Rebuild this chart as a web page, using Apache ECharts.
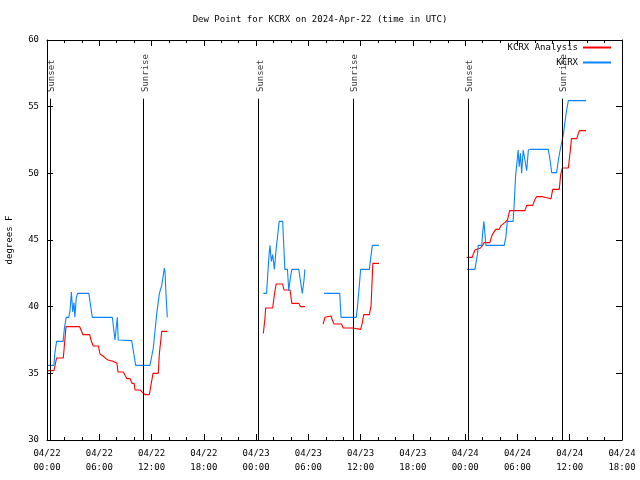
<!DOCTYPE html>
<html>
<head>
<meta charset="utf-8">
<script src="https://cdn.jsdelivr.net/npm/echarts@6/dist/echarts.min.js"></script>
<style>html,body{margin:0;padding:0;background:#fff;}#c{width:640px;height:480px;}</style>
</head>
<body>
<div id="c"></div>
<script>
const tickLabels = ['04/22\n00:00','04/22\n06:00','04/22\n12:00','04/22\n18:00','04/23\n00:00','04/23\n06:00','04/23\n12:00','04/23\n18:00','04/24\n00:00','04/24\n06:00','04/24\n12:00','04/24\n18:00'];

// KCRX observed (hours since 04/22 00:00 UTC)
const kcrxHours = [0.1,0.8,0.9,1.1,1.85,2.0,2.2,2.5,2.65,2.8,2.95,3.1,3.2,3.35,3.5,4.8,5.2,7.5,7.8,8.07,8.18,8.26,9.72,10.18,11.82,12.2,12.6,12.9,13.17,13.47,13.55,13.66,13.81,
  19,
  24.83,25.2,25.5,25.6,25.75,25.9,26.1,26.3,26.5,26.65,27.05,27.3,27.6,27.75,27.9,28.1,28.9,29.1,29.3,29.5,29.6,
  30.7,
  31.8,33.6,33.75,35.5,35.65,35.85,36.0,37.0,37.2,37.35,38.1,
  43,
  48.17,49.12,49.27,49.4,49.5,49.9,50.0,50.15,50.26,50.38,52.48,52.68,52.83,53.5,53.62,53.78,53.97,54.08,54.2,54.35,54.48,54.66,54.86,55.06,55.25,55.52,57.54,57.74,57.93,58.5,58.7,58.9,59.08,59.27,59.46,59.65,59.84,61.87];
const kcrxValues = [35.6,35.6,36.5,37.4,37.4,38.4,39.2,39.2,39.75,41.1,39.6,40.3,39.2,40.6,41.0,41.0,39.2,39.2,37.5,39.2,37.5,37.45,37.45,35.6,35.6,36.9,39.5,41.0,41.6,42.9,42.6,40.9,39.2,
  null,
  41.0,41.0,44.0,44.6,43.4,43.9,42.8,44.3,45.5,46.4,46.4,42.8,42.8,41.2,42.0,42.8,42.8,41.9,41.0,42.0,42.8,
  null,
  41.0,41.0,39.2,39.2,40.1,41.6,42.8,42.8,43.9,44.6,44.6,
  null,
  42.8,42.8,43.4,43.9,44.6,44.6,45.5,46.4,45.5,44.6,44.6,45.25,46.4,46.4,47.6,49.75,51.0,51.75,50.5,51.5,50.0,51.75,51.0,50.2,51.75,51.8,51.8,51.0,50.05,50.05,51.0,51.75,51.8,52.9,53.9,54.75,55.45,55.45];

// KCRX Analysis
const analysisHours = [0.1,0.8,1.1,1.87,2.18,3.75,3.9,4.13,4.9,5.05,5.3,5.9,6.08,6.43,6.77,7.0,7.58,7.8,8.03,8.15,8.76,8.96,9.18,9.53,9.76,10.0,10.1,10.67,11.0,11.25,11.74,12.17,12.77,12.9,13.17,13.81,
  19,
  24.83,25.0,25.1,25.9,26.1,26.3,27.05,27.2,27.9,28.1,28.9,29.1,29.6,
  30.7,
  31.7,31.9,32.05,32.6,32.75,32.95,33.8,34.0,35.1,35.3,36.0,36.2,36.35,37.0,37.2,37.4,38.1,
  43,
  48.17,48.8,49.12,49.3,49.76,50.0,50.15,50.83,51.0,51.2,51.5,51.9,52.13,52.35,52.55,52.85,53.0,53.1,54.86,55.06,55.75,55.98,56.2,56.9,57.05,57.85,58.05,58.8,58.96,59.15,59.84,60.03,60.2,60.8,61.1,61.87];
const analysisValues = [35.2,35.2,36.15,36.15,38.5,38.5,38.4,37.9,37.9,37.5,37.05,37.05,36.45,36.3,36.1,36.0,35.9,35.75,35.75,35.1,35.1,34.85,34.6,34.6,34.25,34.25,33.75,33.75,33.55,33.4,33.4,35.0,35.0,36.5,38.15,38.15,
  null,
  38.0,39.0,39.9,39.9,40.9,41.7,41.7,41.25,41.25,40.25,40.25,40.0,40.0,
  null,
  38.7,39.2,39.3,39.3,39.0,38.7,38.7,38.4,38.4,38.3,38.3,38.8,39.4,39.4,40.1,43.25,43.25,
  null,
  43.7,43.7,44.25,44.4,44.4,44.6,44.8,44.8,45.2,45.5,45.8,45.8,46.1,46.2,46.3,46.5,46.9,47.2,47.2,47.6,47.6,48.0,48.25,48.25,48.1,48.1,48.8,48.8,49.9,50.4,50.4,51.5,52.6,52.6,53.2,53.2];

// Sunrise / sunset markers
const eventHours = [0.35, 11.1, 24.3, 35.1, 48.3, 59.1];
const eventNames = ['Sunset','Sunrise','Sunset','Sunrise','Sunset','Sunrise'];

const FONT = 'DejaVu Sans Mono';
const FS = 9;
const pair = (xs, ys) => xs.map((x, i) => [x, ys[i] === null ? '-' : ys[i]]);

const chart = echarts.init(document.getElementById('c'), null, {renderer: 'canvas'});
const axisCommon = {
  type: 'value', min: 0, max: 66, interval: 6,
  axisLine: {show: true, onZero: false, lineStyle: {color: '#000', width: 1}},
  axisTick: {show: true, inside: true, length: 6, lineStyle: {color: '#000'}},
  minorTick: {show: true, splitNumber: 3, length: 3, lineStyle: {color: '#000'}},
  splitLine: {show: false}
};
const yCommon = {
  type: 'value', min: 30, max: 60, interval: 5,
  axisLine: {show: true, onZero: false, lineStyle: {color: '#000', width: 1}},
  axisTick: {show: true, inside: true, length: 6, lineStyle: {color: '#000'}},
  splitLine: {show: false}
};

chart.setOption({
  animation: false,
  backgroundColor: '#fff',
  title: {
    text: 'Dew Point for KCRX on 2024-Apr-22 (time in UTC)',
    left: 'center', top: 10,
    textStyle: {fontFamily: FONT, fontSize: FS, fontWeight: 'normal', color: '#000'}
  },
  legend: {
    data: ['KCRX Analysis', 'KCRX'],
    orient: 'vertical', right: 29, top: 43, align: 'right', padding: 0,
    itemWidth: 28, itemHeight: 2, itemGap: 6, icon: 'rect',
    textStyle: {fontFamily: FONT, fontSize: FS, color: '#000'}
  },
  grid: {left: 47, right: 18, top: 40, bottom: 40, containLabel: false, outerBoundsMode: 'none'},
  xAxis: [
    Object.assign({}, axisCommon, {
      position: 'bottom',
      axisLabel: {
        formatter: v => tickLabels[Math.round(v / 6)] || '',
        fontFamily: FONT, fontSize: FS, color: '#000', lineHeight: 14, margin: 7
      }
    }),
    Object.assign({}, axisCommon, {position: 'top', axisLabel: {show: false}})
  ],
  yAxis: [
    Object.assign({}, yCommon, {
      position: 'left',
      name: 'degrees F', nameLocation: 'middle', nameGap: 33,
      nameTextStyle: {fontFamily: FONT, fontSize: FS, color: '#000'},
      axisLabel: {fontFamily: FONT, fontSize: FS, color: '#000', margin: 8}
    }),
    Object.assign({}, yCommon, {position: 'right', axisLabel: {show: false}})
  ],
  series: [
    {
      name: 'KCRX Analysis', type: 'line', xAxisIndex: 0, yAxisIndex: 0,
      data: pair(analysisHours, analysisValues),
      showSymbol: false, symbol: 'none', connectNulls: false,
      color: '#ff0000', lineStyle: {color: '#ff0000', width: 1.1}
    },
    {
      name: 'KCRX', type: 'line', xAxisIndex: 0, yAxisIndex: 0,
      data: pair(kcrxHours, kcrxValues),
      showSymbol: false, symbol: 'none', connectNulls: false,
      color: '#0a84ff', lineStyle: {color: '#0a84ff', width: 1.1}
    },
    {
      name: 'events', type: 'scatter', xAxisIndex: 0, yAxisIndex: 0,
      symbolSize: 1, itemStyle: {color: 'rgba(0,0,0,0)'},
      silent: true,
      data: eventHours.map((h, i) => ({value: [h, 56.1], name: eventNames[i]})),
      label: {
        show: true, position: 'inside', rotate: 90, align: 'left', verticalAlign: 'middle',
        offset: [0, 2],
        formatter: p => p.name,
        fontFamily: FONT, fontSize: FS, color: '#000'
      },
      markLine: {
        silent: true, symbol: 'none', animation: false,
        label: {show: false},
        lineStyle: {color: '#000', width: 1, type: 'solid'},
        data: eventHours.map(h => [{coord: [h, 30]}, {coord: [h, 55.6]}])
      }
    }
  ]
});
</script>
</body>
</html>
